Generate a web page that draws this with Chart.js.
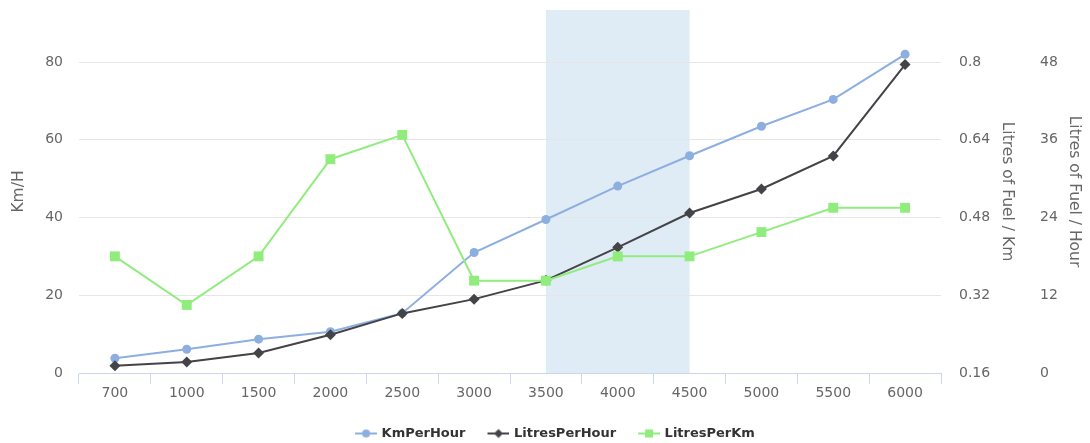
<!DOCTYPE html>
<html>
<head>
<meta charset="utf-8">
<script src="https://cdn.jsdelivr.net/npm/chart.js@4.4.1/dist/chart.umd.min.js"></script>
<style>
  html, body { margin: 0; padding: 0; background: #fff; }
  #wrap { width: 1090px; height: 443px; }
</style>
</head>
<body>
<div id="wrap"><canvas id="fuelChart" width="1090" height="443"></canvas></div>
<script>
// engine speed (rpm)
const categories = ['700', '1000', '1500', '2000', '2500', '3000', '3500', '4000', '4500', '5000', '5500', '6000'];

const kmPerHour = [3.8, 6.1, 8.7, 10.6, 15.4, 31.0, 39.5, 48.1, 55.9, 63.5, 70.4, 82.0];
const litresPerHour = [1.1, 1.7, 3.1, 5.9, 9.2, 11.4, 14.3, 19.4, 24.7, 28.4, 33.5, 47.6];
const litresPerKm = [0.4, 0.3, 0.4, 0.6, 0.65, 0.35, 0.35, 0.4, 0.4, 0.45, 0.5, 0.5];

// highlighted band
const bandFrom = '3500';
const bandTo = '4500';

const blue = '#8cafe0';
const dark = '#434348';
const green = '#90ed7d';
const font = '"DejaVu Sans", Verdana, sans-serif';
const bottomPad = -7;

// line+marker icons for the legend, drawn in the right half of a wider canvas
function legendIcon(color, shape) {
  const c = document.createElement('canvas');
  c.width = 44; c.height = 12;
  const g = c.getContext('2d');
  const cx = 33;
  g.strokeStyle = color;
  g.lineWidth = 2;
  g.beginPath(); g.moveTo(cx - 11, 6); g.lineTo(cx + 11, 6); g.stroke();
  g.fillStyle = color;
  g.beginPath();
  if (shape === 'circle') g.arc(cx, 6, 4, 0, Math.PI * 2);
  else if (shape === 'diamond') { g.moveTo(cx, 1.5); g.lineTo(cx + 4.5, 6); g.lineTo(cx, 10.5); g.lineTo(cx - 4.5, 6); g.closePath(); }
  else g.rect(cx - 4, 2, 8, 8);
  g.fill();
  return c;
}
const icons = [legendIcon(blue, 'circle'), legendIcon(dark, 'diamond'), legendIcon(green, 'square')];

const plotBand = {
  id: 'plotBand',
  beforeDraw(chart) {
    const {ctx, chartArea, scales} = chart;
    const x1 = scales.x.getPixelForValue(categories.indexOf(bandFrom));
    const x2 = scales.x.getPixelForValue(categories.indexOf(bandTo));
    ctx.save();
    ctx.fillStyle = '#dfebf5';
    ctx.fillRect(x1, chartArea.top, x2 - x1, chartArea.bottom - chartArea.top);
    ctx.restore();
  }
};

function noPad(s) {
  s.paddingTop = 0;
  s.paddingBottom = 0;
}

const ctx = document.getElementById('fuelChart');
new Chart(ctx, {
  type: 'line',
  data: {
    labels: categories,
    datasets: [{
      label: 'KmPerHour',
      data: kmPerHour,
      yAxisID: 'y',
      borderColor: blue,
      backgroundColor: blue,
      pointBackgroundColor: blue,
      pointStyle: 'circle',
      pointRadius: 4.5,
      pointBorderWidth: 0,
      borderWidth: 2,
      order: 3
    }, {
      label: 'LitresPerHour',
      data: litresPerHour,
      yAxisID: 'yHour',
      borderColor: dark,
      backgroundColor: dark,
      pointBackgroundColor: dark,
      pointStyle: 'rectRot',
      pointRadius: 5.5,
      pointBorderWidth: 0,
      borderWidth: 2,
      order: 2
    }, {
      label: 'LitresPerKm',
      data: litresPerKm,
      yAxisID: 'yKm',
      borderColor: green,
      backgroundColor: green,
      pointBackgroundColor: green,
      pointStyle: 'rect',
      pointRadius: 7,
      pointBorderWidth: 0,
      borderWidth: 2,
      order: 1
    }]
  },
  options: {
    responsive: false,
    animation: false,
    events: [],
    layout: { padding: { top: 10, left: 0, right: 0, bottom: bottomPad } },
    plugins: {
      tooltip: { enabled: false },
      legend: {
        position: 'bottom',
        labels: {
          usePointStyle: true,
          pointStyleWidth: 40,
          padding: 2,
          color: '#333',
          font: { family: font, size: 13, weight: 'bold' },
          sort: (a, b) => a.datasetIndex - b.datasetIndex,
          generateLabels(chart) {
            const items = Chart.defaults.plugins.legend.labels.generateLabels(chart);
            items.forEach(it => { it.pointStyle = icons[it.datasetIndex]; });
            return items;
          }
        }
      }
    },
    scales: {
      x: {
        offset: true,
        grid: {
          offset: true,
          drawOnChartArea: false,
          drawTicks: true,
          tickLength: 11,
          color: '#ccd6eb'
        },
        border: { color: '#ccd6eb' },
        ticks: { color: '#666', padding: 1, maxRotation: 0, font: { family: font, size: 14 } },
        afterFit(s) {
          s.paddingLeft = 0;
          s.paddingRight = 0;
          s.height = s.chart.height - bottomPad - 373 - s.chart.legend.height;
        }
      },
      y: {
        position: 'left',
        min: 0,
        max: 93.4,
        grid: { color: '#e6e6e6', drawTicks: false },
        border: { display: false },
        ticks: {
          stepSize: 20,
          includeBounds: false,
          padding: 16,
          color: '#666',
          font: { family: font, size: 14 },
          callback: v => String(v)
        },
        title: { display: true, text: 'Km/H', color: '#666', padding: { top: 9.7, bottom: 0 }, font: { family: font, size: 15.5 } },
        afterFit(s) { noPad(s); s.width = 79; }
      },
      yKm: {
        position: 'right',
        min: 0.16,
        max: 0.907,
        grid: { display: false, drawTicks: false },
        border: { display: false },
        ticks: {
          stepSize: 0.16,
          includeBounds: false,
          padding: 18,
          color: '#666',
          font: { family: font, size: 14 },
          callback: v => String(+v.toFixed(2))
        },
        title: { display: true, text: 'Litres of Fuel / Km', color: '#666', padding: { top: 6.7, bottom: 0 }, font: { family: font, size: 15.5 } },
        afterFit(s) { noPad(s); s.width = 82; }
      },
      yHour: {
        position: 'right',
        min: 0,
        max: 56.03,
        grid: { display: false, drawTicks: false },
        border: { display: false },
        ticks: {
          stepSize: 12,
          includeBounds: false,
          padding: 17,
          color: '#666',
          font: { family: font, size: 14 },
          callback: v => String(v)
        },
        title: { display: true, text: 'Litres of Fuel / Hour', color: '#666', padding: { top: 6.7, bottom: 0 }, font: { family: font, size: 15.5 } },
        afterFit(s) { noPad(s); s.width = 67; }
      }
    }
  },
  plugins: [plotBand]
});
</script>
</body>
</html>
